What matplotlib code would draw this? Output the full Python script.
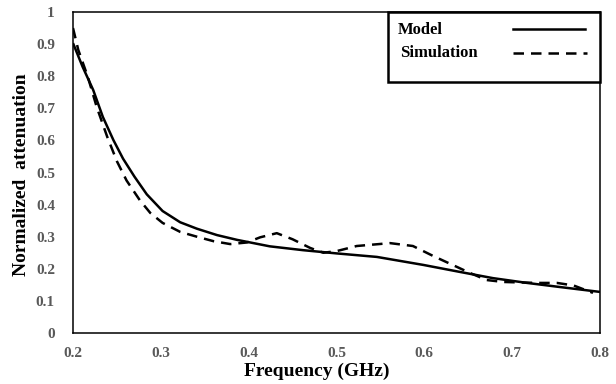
import matplotlib
matplotlib.use("Agg")
import matplotlib.pyplot as plt
from matplotlib.patches import Rectangle
from matplotlib.lines import Line2D

model_f = [0.200, 0.211, 0.223, 0.234, 0.246, 0.257, 0.270, 0.284, 0.302, 0.322,
           0.341, 0.364, 0.387, 0.424, 0.462, 0.500, 0.546, 0.599, 0.641, 0.678,
           0.717, 0.755, 0.800]
model_v = [0.903, 0.829, 0.757, 0.673, 0.601, 0.543, 0.487, 0.432, 0.380, 0.345,
           0.325, 0.305, 0.290, 0.270, 0.258, 0.248, 0.237, 0.212, 0.190, 0.171,
           0.156, 0.143, 0.128]

sim_f = [0.200, 0.206, 0.217, 0.227, 0.239, 0.250, 0.261, 0.276, 0.288, 0.302,
         0.322, 0.341, 0.360, 0.379, 0.398, 0.413, 0.432, 0.450, 0.470, 0.485,
         0.500, 0.523, 0.561, 0.587, 0.610, 0.637, 0.652, 0.671, 0.690, 0.728,
         0.751, 0.770, 0.792]
sim_v = [0.950, 0.882, 0.797, 0.704, 0.611, 0.535, 0.475, 0.414, 0.374, 0.343,
         0.315, 0.300, 0.286, 0.277, 0.282, 0.298, 0.311, 0.292, 0.265, 0.250,
         0.255, 0.271, 0.280, 0.271, 0.240, 0.206, 0.187, 0.165, 0.159, 0.156,
         0.156, 0.148, 0.125]

xticks = [0.2, 0.3, 0.4, 0.5, 0.6, 0.7, 0.8]
xtick_labels = ["0.2", "0.3", "0.4", "0.5", "0.6", "0.7", "0.8"]
yticks = [0, 0.1, 0.2, 0.3, 0.4, 0.5, 0.6, 0.7, 0.8, 0.9, 1]
ytick_labels = ["0", "0.1", "0.2", "0.3", "0.4", "0.5", "0.6", "0.7", "0.8", "0.9", "1"]
legend_labels = ["Model", "Simulation"]

serif = ["Liberation Serif", "DejaVu Serif"]

fig = plt.figure(figsize=(6.16, 3.84), dpi=100)
ax = fig.add_axes([73 / 616, 1 - 333 / 384, (600 - 73) / 616, (333 - 12) / 384])

ax.plot(model_f, model_v, color="black", lw=1.8, solid_capstyle="butt",
        solid_joinstyle="round")
ax.plot(sim_f, sim_v, color="black", lw=1.8, dashes=(4.2, 2.8))

ax.set_xlim(0.2, 0.8)
ax.set_ylim(0, 1)
ax.set_xticks(xticks)
ax.set_xticklabels(xtick_labels)
ax.set_yticks(yticks)
ax.set_yticklabels(ytick_labels)
ax.tick_params(length=0, pad=10, labelsize=11, labelcolor="#595959")
ax.tick_params(axis="y", pad=13)
for lab in ax.get_xticklabels() + ax.get_yticklabels():
    lab.set_fontfamily(serif)
    lab.set_fontweight("bold")
for sp in ax.spines.values():
    sp.set_linewidth(1.1)
    sp.set_color("black")

ax.set_xlabel("Frequency (GHz)", fontsize=14, fontweight="bold", family=serif)
ax.xaxis.set_label_coords((317 - 73) / 527, -(371 - 333) / 321)
ax.xaxis.label.set_va("center")
ax.set_ylabel("Normalized  attenuation", fontsize=14, fontweight="bold", family=serif)
ax.yaxis.set_label_coords(-(73 - 22) / 527, (333 - 175) / 321)
ax.yaxis.label.set_va("center")

# legend box drawn in axes coordinates
def ax_x(px):
    return (px - 73) / (600 - 73)

def ax_y(py):
    return (333 - py) / (333 - 12)

ax.add_patch(Rectangle((ax_x(388), ax_y(82)), ax_x(600) - ax_x(388), ax_y(12) - ax_y(82),
                       transform=ax.transAxes, fill=True, facecolor="white",
                       edgecolor="black", lw=1.8, clip_on=False, zorder=5))
ax.text(ax_x(398), ax_y(30), legend_labels[0], transform=ax.transAxes, fontsize=12,
        fontweight="bold", family=serif, va="center", ha="left", zorder=6)
ax.text(ax_x(400), ax_y(53), legend_labels[1], transform=ax.transAxes, fontsize=12,
        fontweight="bold", family=serif, va="center", ha="left", zorder=6)
ax.add_line(Line2D([ax_x(513), ax_x(585)], [ax_y(29), ax_y(29)], transform=ax.transAxes,
                   color="black", lw=1.8, zorder=6))
ax.add_line(Line2D([ax_x(513), ax_x(587)], [ax_y(53), ax_y(53)], transform=ax.transAxes,
                   color="black", lw=1.8, dashes=(4.2, 2.8), zorder=6))

fig.savefig("out.png", dpi=100)
